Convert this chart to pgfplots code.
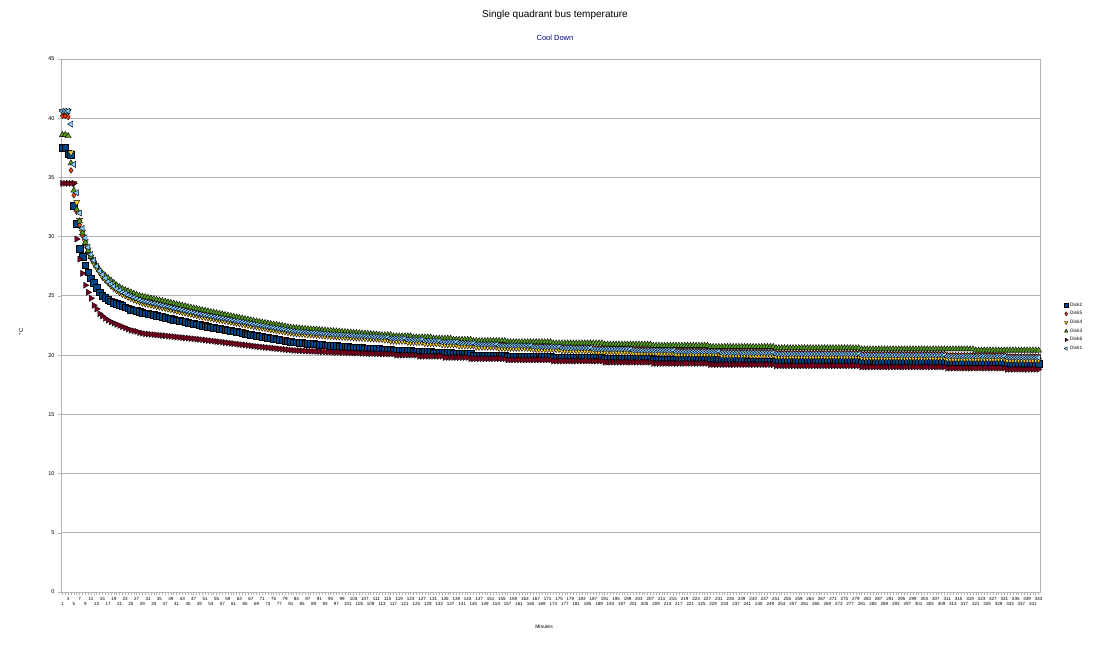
\documentclass[border=0pt]{standalone}
\usepackage{pgfplots}
\pgfplotsset{compat=1.18}
\usepackage{pgfplotstable}
\usepackage{fontspec}
\setmainfont{Liberation Sans}
\definecolor{cDa}{HTML}{004586}
\definecolor{cDb}{HTML}{FF420E}
\definecolor{cDc}{HTML}{FFD320}
\definecolor{cDd}{HTML}{579D1C}
\definecolor{cDe}{HTML}{7E0021}
\definecolor{cDf}{HTML}{83CAFF}
\definecolor{gridc}{HTML}{B3B3B3}
\definecolor{subc}{HTML}{000080}

\pgfplotstableread{
d2 d5 d4 d3 d6 d1
37.5 40.2 40.6 38.6 34.5 40.6
37.5 40.2 40.6 38.6 34.5 40.6
37.0 40.1 40.6 38.5 34.5 40.6
36.9 35.6 37.1 36.2 34.5 39.5
32.6 33.5 34.5 33.9 34.5 36.1
31.1 32.1 32.9 32.3 29.8 33.7
29.0 31.0 31.4 31.3 28.1 32.0
28.3 30.1 30.4 30.3 26.9 30.7
27.6 29.4 29.6 29.5 25.9 29.9
27.0 28.7 28.9 28.8 25.3 29.1
26.5 28.2 28.3 28.3 24.8 28.5
26.1 27.8 27.8 27.9 24.2 28.0
25.7 27.4 27.4 27.5 23.9 27.5
25.3 27.1 27.0 27.2 23.5 27.1
25.0 26.8 26.6 26.9 23.3 26.8
24.85 26.6 26.35 26.7 23.1 26.5
24.7 26.4 26.1 26.5 22.95 26.2
24.55 26.2 25.85 26.3 22.8 26.0
24.45 26.0 25.65 26.1 22.7 25.8
24.35 25.8 25.45 25.9 22.6 25.6
24.25 25.65 25.3 25.75 22.5 25.45
24.15 25.5 25.15 25.6 22.4 25.3
24.05 25.4 25.05 25.5 22.3 25.2
23.95 25.3 24.9 25.4 22.2 25.05
23.85 25.2 24.8 25.3 22.1 24.95
23.8 25.1 24.7 25.2 22.05 24.85
23.75 25.0 24.6 25.1 22.0 24.75
23.65 24.9 24.5 25.0 21.9 24.65
23.6 24.85 24.4 24.95 21.85 24.55
23.55 24.8 24.35 24.9 21.8 24.5
23.50 24.75 24.30 24.85 21.78 24.45
23.44 24.69 24.24 24.79 21.75 24.39
23.39 24.64 24.19 24.74 21.73 24.34
23.33 24.58 24.13 24.68 21.70 24.28
23.28 24.53 24.08 24.63 21.68 24.23
23.22 24.47 24.02 24.57 21.65 24.17
23.17 24.42 23.97 24.52 21.63 24.12
23.11 24.36 23.91 24.46 21.60 24.06
23.06 24.31 23.86 24.41 21.58 24.01
23.00 24.25 23.80 24.35 21.55 23.95
22.95 24.19 23.74 24.29 21.53 23.89
22.90 24.14 23.69 24.24 21.50 23.84
22.85 24.08 23.63 24.18 21.48 23.78
22.80 24.03 23.58 24.13 21.45 23.73
22.75 23.97 23.52 24.07 21.43 23.67
22.70 23.92 23.47 24.02 21.40 23.62
22.65 23.86 23.41 23.96 21.38 23.56
22.60 23.81 23.36 23.91 21.35 23.51
22.55 23.75 23.30 23.85 21.33 23.45
22.50 23.70 23.25 23.80 21.30 23.40
22.46 23.64 23.21 23.75 21.27 23.36
22.41 23.59 23.16 23.70 21.24 23.31
22.37 23.53 23.12 23.65 21.21 23.27
22.32 23.48 23.07 23.60 21.18 23.22
22.28 23.42 23.03 23.55 21.15 23.18
22.23 23.37 22.98 23.50 21.12 23.13
22.19 23.31 22.94 23.45 21.09 23.09
22.14 23.26 22.89 23.40 21.06 23.04
22.10 23.20 22.85 23.35 21.03 23.00
22.05 23.15 22.80 23.30 21.00 22.95
22.01 23.10 22.76 23.25 20.97 22.91
21.96 23.05 22.71 23.20 20.94 22.86
21.92 23.00 22.67 23.15 20.91 22.82
21.87 22.95 22.62 23.10 20.88 22.77
21.83 22.90 22.58 23.05 20.85 22.73
21.78 22.85 22.53 23.00 20.82 22.68
21.74 22.80 22.49 22.95 20.79 22.64
21.69 22.75 22.44 22.90 20.76 22.59
21.65 22.70 22.40 22.85 20.73 22.55
21.60 22.65 22.35 22.80 20.70 22.50
21.56 22.61 22.31 22.76 20.68 22.46
21.52 22.57 22.27 22.72 20.65 22.42
21.48 22.53 22.23 22.68 20.63 22.38
21.43 22.48 22.18 22.63 20.60 22.33
21.39 22.44 22.14 22.59 20.58 22.29
21.35 22.40 22.10 22.55 20.55 22.25
21.31 22.36 22.06 22.51 20.53 22.21
21.27 22.32 22.02 22.47 20.50 22.17
21.23 22.28 21.98 22.43 20.48 22.13
21.18 22.23 21.93 22.38 20.45 22.08
21.14 22.19 21.89 22.34 20.43 22.04
21.10 22.15 21.85 22.30 20.40 22.00
21.08 22.13 21.83 22.28 20.39 21.98
21.05 22.11 21.81 22.26 20.38 21.96
21.03 22.09 21.79 22.24 20.37 21.94
21.01 22.07 21.77 22.22 20.35 21.92
20.98 22.05 21.75 22.20 20.34 21.90
20.96 22.03 21.73 22.18 20.33 21.88
20.94 22.02 21.72 22.17 20.32 21.87
20.92 22.00 21.70 22.15 20.31 21.85
20.89 21.98 21.68 22.13 20.30 21.83
20.87 21.96 21.66 22.11 20.28 21.81
20.85 21.94 21.64 22.09 20.27 21.79
20.82 21.92 21.62 22.07 20.26 21.77
20.80 21.90 21.60 22.05 20.25 21.75
20.78 21.88 21.59 22.03 20.24 21.74
20.77 21.87 21.57 22.01 20.23 21.72
20.75 21.85 21.56 21.99 20.23 21.71
20.73 21.83 21.54 21.97 20.22 21.69
20.72 21.82 21.53 21.95 20.21 21.68
20.70 21.80 21.52 21.93 20.20 21.67
20.68 21.78 21.50 21.91 20.19 21.65
20.67 21.77 21.49 21.89 20.18 21.64
20.65 21.75 21.47 21.88 20.18 21.62
20.63 21.73 21.46 21.86 20.17 21.61
20.62 21.72 21.45 21.84 20.16 21.60
20.60 21.70 21.43 21.82 20.15 21.58
20.58 21.68 21.42 21.80 20.14 21.57
20.57 21.67 21.40 21.78 20.13 21.55
20.55 21.65 21.39 21.76 20.13 21.54
20.53 21.63 21.38 21.74 20.12 21.53
20.52 21.62 21.36 21.72 20.11 21.51
20.50 21.60 21.35 21.70 20.10 21.50
20.5 21.6 21.3 21.7 20.1 21.5
20.5 21.6 21.3 21.7 20.1 21.5
20.5 21.5 21.2 21.7 20.1 21.4
20.4 21.5 21.2 21.6 20.1 21.4
20.4 21.5 21.2 21.6 20.0 21.4
20.4 21.5 21.2 21.6 20.0 21.4
20.4 21.5 21.2 21.6 20.0 21.4
20.4 21.5 21.2 21.6 20.0 21.4
20.4 21.4 21.1 21.6 20.0 21.3
20.4 21.4 21.1 21.6 20.0 21.3
20.3 21.4 21.1 21.5 20.0 21.3
20.3 21.4 21.1 21.5 20.0 21.3
20.3 21.4 21.1 21.5 19.9 21.3
20.3 21.4 21.1 21.5 19.9 21.3
20.3 21.3 21.0 21.5 19.9 21.2
20.3 21.3 21.0 21.5 19.9 21.2
20.3 21.3 21.0 21.5 19.9 21.2
20.2 21.3 21.0 21.4 19.9 21.2
20.2 21.3 21.0 21.4 19.9 21.2
20.2 21.3 21.0 21.4 19.9 21.2
20.2 21.2 20.9 21.4 19.9 21.1
20.2 21.2 20.9 21.4 19.8 21.1
20.2 21.2 20.9 21.4 19.8 21.1
20.2 21.2 20.9 21.4 19.8 21.1
20.1 21.2 20.9 21.3 19.8 21.1
20.1 21.2 20.9 21.3 19.8 21.1
20.1 21.1 20.8 21.3 19.8 21.0
20.1 21.1 20.8 21.3 19.8 21.0
20.1 21.1 20.8 21.3 19.8 21.0
20.1 21.1 20.8 21.3 19.8 21.0
20.1 21.1 20.8 21.3 19.7 21.0
20.0 21.1 20.8 21.2 19.7 21.0
20.0 21.0 20.7 21.2 19.7 20.9
20.0 21.0 20.7 21.2 19.7 20.9
20.0 21.0 20.7 21.2 19.7 20.9
20.0 21.0 20.7 21.2 19.7 20.9
20.0 21.0 20.7 21.2 19.7 20.9
20.0 21.0 20.7 21.2 19.7 20.9
20.0 21.0 20.7 21.2 19.7 20.9
20.0 21.0 20.7 21.2 19.7 20.9
20.0 20.9 20.6 21.2 19.7 20.8
20.0 20.9 20.6 21.2 19.7 20.8
20.0 20.9 20.6 21.2 19.7 20.8
19.9 20.9 20.6 21.1 19.6 20.8
19.9 20.9 20.6 21.1 19.6 20.8
19.9 20.9 20.6 21.1 19.6 20.8
19.9 20.9 20.6 21.1 19.6 20.8
19.9 20.9 20.6 21.1 19.6 20.8
19.9 20.9 20.6 21.1 19.6 20.8
19.9 20.9 20.6 21.1 19.6 20.8
19.9 20.9 20.6 21.1 19.6 20.8
19.9 20.9 20.6 21.1 19.6 20.8
19.9 20.8 20.5 21.1 19.6 20.7
19.9 20.8 20.5 21.1 19.6 20.7
19.9 20.8 20.5 21.1 19.6 20.7
19.9 20.8 20.5 21.1 19.6 20.7
19.9 20.8 20.5 21.1 19.6 20.7
19.9 20.8 20.5 21.1 19.6 20.7
19.9 20.8 20.5 21.1 19.6 20.7
19.8 20.8 20.5 21.0 19.5 20.7
19.8 20.8 20.5 21.0 19.5 20.7
19.8 20.8 20.5 21.0 19.5 20.7
19.8 20.7 20.4 21.0 19.5 20.6
19.8 20.7 20.4 21.0 19.5 20.6
19.8 20.7 20.4 21.0 19.5 20.6
19.8 20.7 20.4 21.0 19.5 20.6
19.8 20.7 20.4 21.0 19.5 20.6
19.8 20.7 20.4 21.0 19.5 20.6
19.8 20.7 20.4 21.0 19.5 20.6
19.8 20.7 20.4 21.0 19.5 20.6
19.8 20.7 20.4 21.0 19.5 20.6
19.8 20.7 20.4 21.0 19.5 20.6
19.8 20.7 20.4 21.0 19.5 20.6
19.8 20.6 20.3 21.0 19.5 20.5
19.8 20.6 20.3 21.0 19.5 20.5
19.8 20.6 20.3 21.0 19.5 20.5
19.8 20.6 20.3 21.0 19.5 20.5
19.7 20.6 20.3 20.9 19.4 20.5
19.7 20.6 20.3 20.9 19.4 20.5
19.7 20.6 20.3 20.9 19.4 20.5
19.7 20.6 20.3 20.9 19.4 20.5
19.7 20.6 20.3 20.9 19.4 20.5
19.7 20.6 20.3 20.9 19.4 20.5
19.7 20.6 20.3 20.9 19.4 20.5
19.7 20.6 20.3 20.9 19.4 20.5
19.7 20.6 20.3 20.9 19.4 20.5
19.7 20.6 20.3 20.9 19.4 20.5
19.7 20.5 20.2 20.9 19.4 20.4
19.7 20.5 20.2 20.9 19.4 20.4
19.7 20.5 20.2 20.9 19.4 20.4
19.7 20.5 20.2 20.9 19.4 20.4
19.7 20.5 20.2 20.9 19.4 20.4
19.7 20.5 20.2 20.9 19.4 20.4
19.7 20.5 20.2 20.9 19.4 20.4
19.6 20.5 20.2 20.8 19.3 20.4
19.6 20.5 20.2 20.8 19.3 20.4
19.6 20.5 20.2 20.8 19.3 20.4
19.6 20.5 20.2 20.8 19.3 20.4
19.6 20.5 20.2 20.8 19.3 20.4
19.6 20.5 20.2 20.8 19.3 20.4
19.6 20.5 20.2 20.8 19.3 20.4
19.6 20.5 20.2 20.8 19.3 20.4
19.6 20.4 20.1 20.8 19.3 20.3
19.6 20.4 20.1 20.8 19.3 20.3
19.6 20.4 20.1 20.8 19.3 20.3
19.6 20.4 20.1 20.8 19.3 20.3
19.6 20.4 20.1 20.8 19.3 20.3
19.6 20.4 20.1 20.8 19.3 20.3
19.6 20.4 20.1 20.8 19.3 20.3
19.6 20.4 20.1 20.8 19.3 20.3
19.6 20.4 20.1 20.8 19.3 20.3
19.6 20.4 20.1 20.8 19.3 20.3
19.6 20.4 20.1 20.8 19.3 20.3
19.6 20.4 20.1 20.8 19.3 20.3
19.6 20.4 20.1 20.7 19.2 20.3
19.6 20.4 20.1 20.7 19.2 20.3
19.6 20.4 20.1 20.7 19.2 20.3
19.6 20.4 20.1 20.7 19.2 20.3
19.6 20.3 20.0 20.7 19.2 20.2
19.6 20.3 20.0 20.7 19.2 20.2
19.6 20.3 20.0 20.7 19.2 20.2
19.6 20.3 20.0 20.7 19.2 20.2
19.6 20.3 20.0 20.7 19.2 20.2
19.6 20.3 20.0 20.7 19.2 20.2
19.6 20.3 20.0 20.7 19.2 20.2
19.6 20.3 20.0 20.7 19.2 20.2
19.6 20.3 20.0 20.7 19.2 20.2
19.5 20.3 20.0 20.7 19.2 20.2
19.5 20.3 20.0 20.7 19.2 20.2
19.5 20.3 20.0 20.7 19.2 20.2
19.5 20.3 20.0 20.7 19.2 20.2
19.5 20.3 20.0 20.7 19.2 20.2
19.5 20.3 20.0 20.7 19.2 20.2
19.5 20.3 20.0 20.7 19.2 20.2
19.5 20.3 20.0 20.7 19.2 20.2
19.5 20.3 20.0 20.7 19.2 20.2
19.5 20.3 20.0 20.7 19.2 20.2
19.5 20.2 19.9 20.6 19.1 20.1
19.5 20.2 19.9 20.6 19.1 20.1
19.5 20.2 19.9 20.6 19.1 20.1
19.5 20.2 19.9 20.6 19.1 20.1
19.5 20.2 19.9 20.6 19.1 20.1
19.5 20.2 19.9 20.6 19.1 20.1
19.5 20.2 19.9 20.6 19.1 20.1
19.5 20.2 19.9 20.6 19.1 20.1
19.5 20.2 19.9 20.6 19.1 20.1
19.5 20.2 19.9 20.6 19.1 20.1
19.5 20.2 19.9 20.6 19.1 20.1
19.5 20.2 19.9 20.6 19.1 20.1
19.5 20.2 19.9 20.6 19.1 20.1
19.5 20.2 19.9 20.6 19.1 20.1
19.5 20.2 19.9 20.6 19.1 20.1
19.5 20.2 19.9 20.6 19.1 20.1
19.5 20.2 19.9 20.6 19.1 20.1
19.5 20.2 19.9 20.6 19.1 20.1
19.5 20.2 19.9 20.6 19.1 20.1
19.5 20.2 19.9 20.6 19.1 20.1
19.5 20.2 19.9 20.6 19.1 20.1
19.5 20.2 19.9 20.6 19.1 20.1
19.5 20.2 19.9 20.6 19.1 20.1
19.5 20.2 19.9 20.6 19.1 20.1
19.5 20.2 19.9 20.6 19.1 20.1
19.5 20.2 19.9 20.6 19.1 20.1
19.5 20.2 19.9 20.6 19.1 20.1
19.5 20.2 19.9 20.6 19.1 20.1
19.5 20.2 19.9 20.6 19.1 20.1
19.5 20.2 19.9 20.6 19.1 20.1
19.4 20.1 19.8 20.5 19.0 20.0
19.4 20.1 19.8 20.5 19.0 20.0
19.4 20.1 19.8 20.5 19.0 20.0
19.4 20.1 19.8 20.5 19.0 20.0
19.4 20.1 19.8 20.5 19.0 20.0
19.4 20.1 19.8 20.5 19.0 20.0
19.4 20.1 19.8 20.5 19.0 20.0
19.4 20.1 19.8 20.5 19.0 20.0
19.4 20.1 19.8 20.5 19.0 20.0
19.4 20.1 19.8 20.5 19.0 20.0
19.4 20.1 19.8 20.5 19.0 20.0
19.4 20.1 19.8 20.5 19.0 20.0
19.4 20.1 19.8 20.5 19.0 20.0
19.4 20.1 19.8 20.5 19.0 20.0
19.4 20.1 19.8 20.5 19.0 20.0
19.4 20.1 19.8 20.5 19.0 20.0
19.4 20.1 19.8 20.5 19.0 20.0
19.4 20.1 19.8 20.5 19.0 20.0
19.4 20.1 19.8 20.5 19.0 20.0
19.4 20.1 19.8 20.5 19.0 20.0
19.4 20.1 19.8 20.5 19.0 20.0
19.4 20.1 19.8 20.5 19.0 20.0
19.4 20.1 19.8 20.5 19.0 20.0
19.4 20.1 19.8 20.5 19.0 20.0
19.4 20.1 19.8 20.5 19.0 20.0
19.4 20.1 19.8 20.5 19.0 20.0
19.4 20.1 19.8 20.5 19.0 20.0
19.4 20.1 19.8 20.5 19.0 20.0
19.4 20.1 19.8 20.5 19.0 20.0
19.4 20.1 19.8 20.5 19.0 20.0
19.4 20.0 19.7 20.5 18.9 19.9
19.4 20.0 19.7 20.5 18.9 19.9
19.4 20.0 19.7 20.5 18.9 19.9
19.4 20.0 19.7 20.5 18.9 19.9
19.4 20.0 19.7 20.5 18.9 19.9
19.4 20.0 19.7 20.5 18.9 19.9
19.4 20.0 19.7 20.5 18.9 19.9
19.4 20.0 19.7 20.5 18.9 19.9
19.4 20.0 19.7 20.5 18.9 19.9
19.4 20.0 19.7 20.5 18.9 19.9
19.4 20.0 19.7 20.4 18.9 19.9
19.4 20.0 19.7 20.4 18.9 19.9
19.4 20.0 19.7 20.4 18.9 19.9
19.4 20.0 19.7 20.4 18.9 19.9
19.4 20.0 19.7 20.4 18.9 19.9
19.4 20.0 19.7 20.4 18.9 19.9
19.4 20.0 19.7 20.4 18.9 19.9
19.4 20.0 19.7 20.4 18.9 19.9
19.4 20.0 19.7 20.4 18.9 19.9
19.4 20.0 19.7 20.4 18.9 19.9
19.3 20.0 19.7 20.4 18.9 19.9
19.3 19.9 19.6 20.4 18.8 19.8
19.3 19.9 19.6 20.4 18.8 19.8
19.3 19.9 19.6 20.4 18.8 19.8
19.3 19.9 19.6 20.4 18.8 19.8
19.3 19.9 19.6 20.4 18.8 19.8
19.3 19.9 19.6 20.4 18.8 19.8
19.3 19.9 19.6 20.4 18.8 19.8
19.3 19.9 19.6 20.4 18.8 19.8
19.3 19.9 19.6 20.4 18.8 19.8
19.3 19.9 19.6 20.4 18.8 19.8
19.3 19.9 19.6 20.4 18.8 19.8
19.3 19.9 19.6 20.4 18.8 19.8
}\data

\begin{document}
\begin{tikzpicture}[x=1pt,y=1pt]
\path[use as bounding box] (0,0) rectangle (1111,656);
\begin{axis}[
  at={(61pt,64pt)}, anchor=south west,
  width=979pt, height=533pt, scale only axis,
  xmin=0.5, xmax=343.5, ymin=0, ymax=45,
  ytick={0,5,...,45},
  xtick={3,7,...,343},
  minor xtick={1,2,...,343},
  extra x ticks={1,5,...,341},
  extra x tick style={xticklabel style={yshift=-5.5pt}},
  ymajorgrids, grid style={gridc, line width=0.9pt},
  axis line style={gridc, line width=0.9pt},
  tick style={gridc, line width=0.5pt},
  tick align=outside, tick pos=left,
  major tick length=3pt, minor tick length=3pt,
  /pgf/number format/assume math mode=true,
  xticklabel style={font=\fontsize{4.5}{5}\selectfont, inner sep=0.6pt, yshift=-1.5pt},
  yticklabel style={font=\fontsize{5.5}{6}\selectfont},
  legend style={at={(1.0245,0.547)}, anchor=north west, draw=none, fill=none,
    font=\fontsize{4.8}{5}\selectfont, row sep=-0.3pt, inner sep=0pt},
  legend cell align=left,
  legend image post style={mark size=2pt},
]
\addplot[only marks, mark=square*, mark size=3.3pt, mark options={fill=cDa, draw=black, line width=0.4pt}] table[x expr=\coordindex+1, y=d2]{\data};
\addlegendentry{Disk2}
\addplot[only marks, mark=diamond*, mark size=2.8pt, mark options={fill=cDb, draw=black, line width=0.4pt}] table[x expr=\coordindex+1, y=d5]{\data};
\addlegendentry{Disk5}
\addplot[only marks, mark=triangle*, mark size=3.5pt, mark options={fill=cDc, draw=black, line width=0.4pt, rotate=180}] table[x expr=\coordindex+1, y=d4]{\data};
\addlegendentry{Disk4}
\addplot[only marks, mark=triangle*, mark size=3.5pt, mark options={fill=cDd, draw=black, line width=0.4pt}] table[x expr=\coordindex+1, y=d3]{\data};
\addlegendentry{Disk3}
\addplot[only marks, mark=triangle*, mark size=3.5pt, mark options={fill=cDe, draw=black, line width=0.4pt, rotate=-90}] table[x expr=\coordindex+1, y=d6]{\data};
\addlegendentry{Disk6}
\addplot[only marks, mark=triangle*, mark size=3.5pt, mark options={fill=cDf, draw=black, line width=0.4pt, rotate=90}] table[x expr=\coordindex+1, y=d1]{\data};
\addlegendentry{Disk1}
\end{axis}
\node[font=\fontsize{10}{12}\selectfont] at (555,641) {Single quadrant bus temperature};
\node[font=\fontsize{7.5}{9}\selectfont, text=subc] at (555,618) {Cool Down};
\node[font=\fontsize{5}{6}\selectfont] at (544,29) {Minutes};
\node[font=\fontsize{6}{7}\selectfont, rotate=90] at (21,324) {°C};
\end{tikzpicture}
\end{document}
